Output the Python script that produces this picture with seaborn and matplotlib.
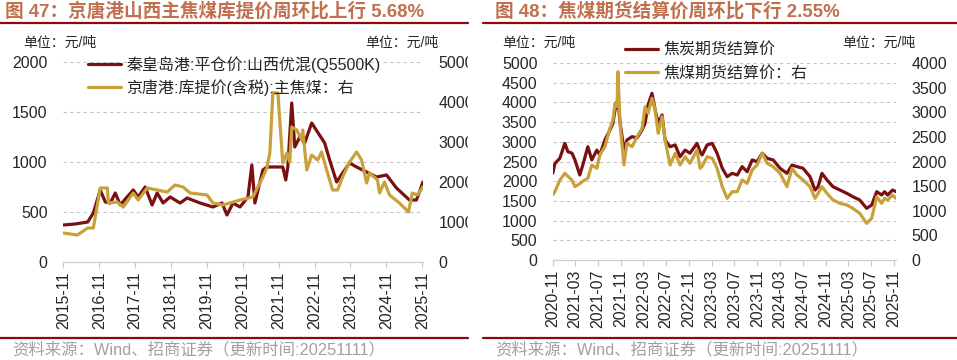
import matplotlib
matplotlib.use("Agg")
import matplotlib.pyplot as plt
import matplotlib.dates as mdates
from matplotlib.patches import Rectangle
from matplotlib.lines import Line2D
import seaborn as sns
import pandas as pd

# ---- left chart: 秦皇岛港 平仓价 (left axis) / 京唐港 主焦煤库提价 (right axis)
qhd_dates = ["2015-11-01", "2016-03-01", "2016-07-05", "2016-09-01", "2016-11-10", "2017-01-01",
             "2017-02-20", "2017-04-12", "2017-06-02", "2017-08-01", "2017-10-12", "2017-12-01",
             "2018-02-10", "2018-04-22", "2018-06-12", "2018-08-12", "2018-10-22", "2019-02-01",
             "2019-04-13", "2019-08-23", "2020-01-01", "2020-04-02", "2020-05-23", "2020-07-23",
             "2020-10-02", "2020-12-22", "2021-01-31", "2021-03-03", "2021-05-23", "2021-07-03",
             "2021-12-12", "2022-01-11", "2022-02-01", "2022-03-13", "2022-04-13", "2022-06-03",
             "2022-07-23", "2022-10-02", "2023-02-11", "2023-04-03", "2023-06-13", "2023-08-13",
             "2023-10-23", "2024-01-02", "2024-03-03", "2024-07-23", "2024-11-02", "2025-02-11",
             "2025-06-23", "2025-09-02", "2025-10-03", "2025-11-07"]
qhd_price = [370, 380, 400, 490, 720, 600,
             590, 690, 570, 640, 720, 650,
             750, 570, 690, 590, 650, 590,
             640, 590, 550, 590, 470, 590,
             550, 650, 970, 590, 920, 950,
             950, 820, 950, 1590, 1150, 1250,
             1190, 1390, 1190, 1020, 800, 890,
             990, 950, 920, 850, 870, 740,
             620, 620, 700, 800]

jtg_dates = ["2015-11-01", "2016-03-22", "2016-07-05", "2016-09-01", "2016-11-10", "2017-01-22",
             "2017-02-01", "2017-05-02", "2017-07-02", "2017-10-12", "2017-12-01", "2018-03-03",
             "2018-06-12", "2018-09-22", "2018-12-12", "2019-03-03", "2019-05-13", "2019-11-02",
             "2020-01-01", "2020-04-12", "2020-10-02", "2021-02-11", "2021-05-23", "2021-07-03",
             "2021-08-02", "2021-09-02", "2021-10-23", "2021-12-12", "2022-01-22", "2022-02-21",
             "2022-03-13", "2022-05-03", "2022-06-23", "2022-07-03", "2022-08-13", "2022-10-02",
             "2022-12-02", "2023-01-11", "2023-02-11", "2023-05-03", "2023-06-23", "2023-08-13",
             "2023-10-23", "2024-01-02", "2024-02-22", "2024-04-13", "2024-05-13", "2024-08-02",
             "2024-08-23", "2024-10-12", "2024-12-02", "2025-03-13", "2025-06-13", "2025-07-23",
             "2025-09-12", "2025-11-07"]
jtg_price = [725, 675, 850, 850, 1850, 1850,
             1475, 1500, 1375, 1725, 1550, 1850,
             1800, 1750, 1925, 1875, 1725, 1675,
             1475, 1425, 1550, 1625, 2125, 2350,
             2725, 4225, 4225, 2475, 2725, 2500,
             3375, 3300, 3050, 3300, 2300, 2675,
             2550, 2750, 2475, 1800, 1800, 2125,
             2500, 2750, 2550, 1975, 2225, 2050,
             1725, 2000, 1675, 1475, 1250, 1725,
             1675, 1875]

# ---- right chart: 焦炭期货结算价 (left axis) / 焦煤期货结算价 (right axis)
fut_dates = ["2020-11-01", "2020-11-13", "2020-12-09", "2021-01-05", "2021-01-21", "2021-02-12",
             "2021-02-28", "2021-03-26", "2021-04-11", "2021-05-08", "2021-05-29", "2021-06-25",
             "2021-07-11", "2021-08-07", "2021-09-03", "2021-09-19", "2021-09-30", "2021-10-11",
             "2021-10-16", "2021-10-27", "2021-11-17", "2021-12-03", "2021-12-30", "2022-01-26",
             "2022-02-22", "2022-03-10", "2022-03-26", "2022-04-16", "2022-05-03", "2022-05-19",
             "2022-06-09", "2022-06-25", "2022-07-22", "2022-08-18", "2022-09-13", "2022-10-10",
             "2022-11-05", "2022-12-13", "2022-12-29", "2023-01-09", "2023-02-05", "2023-03-04",
             "2023-03-30", "2023-04-27", "2023-05-23", "2023-06-19", "2023-07-16", "2023-08-11",
             "2023-09-07", "2023-10-04", "2023-10-30", "2023-11-26", "2023-12-23", "2024-01-24",
             "2024-03-01", "2024-04-07", "2024-05-04", "2024-05-30", "2024-07-02", "2024-08-08",
             "2024-09-04", "2024-09-20", "2024-10-11", "2024-11-07", "2024-12-09", "2025-01-15",
             "2025-02-21", "2025-03-25", "2025-05-01", "2025-06-07", "2025-07-04", "2025-07-31",
             "2025-08-26", "2025-09-11", "2025-09-27", "2025-10-24", "2025-11-11"]
coke_fut = [2200, 2450, 2580, 2960, 2750, 2710,
            2540, 2157, 2410, 2875, 2540, 2790,
            2665, 3045, 3300, 3470, 3807, 4018,
            4050, 3500, 2790, 3045, 3130, 3100,
            3300, 3470, 3935, 4230, 3807, 3470,
            3680, 3045, 2875, 2920, 2620, 2790,
            2710, 2960, 2750, 2665, 2920, 2960,
            2710, 2327, 2115, 2200, 2157, 2370,
            2240, 2540, 2495, 2710, 2580, 2540,
            2327, 2200, 2410, 2370, 2327, 2115,
            1776, 1860, 2200, 2030, 1860, 1776,
            1692, 1607, 1523, 1311, 1396, 1734,
            1650, 1734, 1650, 1776, 1734]
coal_fut = [1320, 1390, 1620, 1760, 1700, 1620,
            1490, 1550, 1600, 1659, 1929, 1862,
            2132, 2300, 2674, 2843, 3182, 3113,
            3823, 2776, 1929, 2370, 2300, 2504,
            2674, 3113, 2979, 3284, 3045, 2573,
            2910, 2436, 1929, 2166, 1929, 2098,
            1963, 2234, 1862, 1900, 2098, 2065,
            1862, 1488, 1252, 1387, 1387, 1624,
            1557, 1827, 1929, 2166, 1963, 1895,
            1760, 1488, 1862, 1726, 1624, 1488,
            1252, 1350, 1488, 1353, 1218, 1151,
            1117, 1049, 948, 745, 846, 1285,
            1151, 1252, 1218, 1320, 1252]

left_ticks = [f"{y}-11-01" for y in range(2015, 2026)]
right_ticks = pd.date_range("2020-11-01", "2025-11-01", freq="4MS")

MAROON = "#7A1010"
GOLD = "#C9A13A"
TITLE_C = "#C0704E"
RULE_C = "#8B0A0A"

sns.set_style("white")
plt.rcParams["font.family"] = ["Liberation Sans", "Noto Sans CJK SC"]
plt.rcParams["axes.unicode_minus"] = False

W, H = 957, 360
fig = plt.figure(figsize=(W / 100, H / 100), dpi=100)


def fx(px):
    return px / W


def fy(py):
    return 1 - py / H


def style_axes(ax, ax2, xticks, xlim):
    for a in (ax, ax2):
        for s in ["top", "left", "right"]:
            a.spines[s].set_visible(False)
        a.spines["bottom"].set_color("#D0D0D0")
        a.set_xlabel("")
        a.set_ylabel("")
        a.tick_params(axis="y", length=0, pad=11, labelsize=11.5)
    ax.grid(axis="y", color="#C4C4C4", linestyle=(0, (3, 3)), linewidth=0.8)
    ax.set_axisbelow(True)
    ax.set_xticks(pd.to_datetime(xticks))
    ax.xaxis.set_major_formatter(mdates.DateFormatter("%Y-%m"))
    ax.tick_params(axis="x", length=4, color="#C8C8C8", width=0.8, pad=3,
                   labelsize=11.5, rotation=90, bottom=True)
    ax.set_xlim(pd.Timestamp(xlim[0]), pd.Timestamp(xlim[1]))


def frame(x0, x1, tx, sx, title):
    fig.text(fx(tx), fy(11), title, fontsize=13.4, fontweight="bold",
             color=TITLE_C, va="center", ha="left")
    fig.add_artist(Line2D([fx(x0), fx(x1)], [fy(23), fy(23)], color=RULE_C, lw=1.6))
    fig.add_artist(Line2D([fx(x0), fx(x1)], [fy(338), fy(338)], color=RULE_C, lw=1.6))
    fig.text(fx(sx), fy(350), "资料来源：Wind、招商证券（更新时间:20251111）",
             fontsize=11.8, color="#A0A0A0", va="center", ha="left")


# ---------------- left panel ----------------
axL = fig.add_axes([fx(63), fy(262), fx(423) - fx(63), (262 - 62) / H])
axL2 = axL.twinx()
df_qhd = pd.DataFrame({"date": pd.to_datetime(qhd_dates), "price": qhd_price})
df_jtg = pd.DataFrame({"date": pd.to_datetime(jtg_dates), "price": jtg_price})
sns.lineplot(data=df_qhd, x="date", y="price", ax=axL, color=MAROON, lw=2.3,
             label="秦皇岛港:平仓价:山西优混(Q5500K)")
sns.lineplot(data=df_jtg, x="date", y="price", ax=axL2, color=GOLD, lw=2.3,
             label="京唐港:库提价(含税):主焦煤：右")
axL.set_ylim(0, 2000)
axL.set_yticks([0, 500, 1000, 1500, 2000])
axL2.set_ylim(0, 5000)
axL2.set_yticks([0, 1000, 2000, 3000, 4000, 5000])
style_axes(axL, axL2, left_ticks, ("2015-10-28", "2025-11-08"))
h1, l1 = axL.get_legend_handles_labels()
h2, l2 = axL2.get_legend_handles_labels()
axL.get_legend().remove()
axL2.legend(h1 + h2, l1 + l2, loc="upper left", bbox_to_anchor=(0.069, 1.03),
            frameon=False, fontsize=11.5, handlelength=2.1, handletextpad=0.3,
            borderpad=0, borderaxespad=0, labelspacing=0.4)

# ---------------- right panel ----------------
axR = fig.add_axes([fx(552.7), fy(260), fx(896) - fx(552.7), (260 - 63) / H])
axR2 = axR.twinx()
df_fut = pd.DataFrame({"date": pd.to_datetime(fut_dates), "coke": coke_fut, "coal": coal_fut})
sns.lineplot(data=df_fut, x="date", y="coke", ax=axR, color=MAROON, lw=2.3,
             label="焦炭期货结算价")
sns.lineplot(data=df_fut, x="date", y="coal", ax=axR2, color=GOLD, lw=2.3,
             label="焦煤期货结算价：右")
axR.set_ylim(0, 5000)
axR.set_yticks(range(0, 5001, 500))
axR2.set_ylim(0, 4000)
axR2.set_yticks(range(0, 4001, 500))
style_axes(axR, axR2, right_ticks, ("2020-11-01", "2025-11-11"))
h1, l1 = axR.get_legend_handles_labels()
h2, l2 = axR2.get_legend_handles_labels()
axR.get_legend().remove()
axR2.legend(h1 + h2, l1 + l2, loc="upper left", bbox_to_anchor=(0.21, 1.105),
            frameon=False, fontsize=11.5, handlelength=2.1, handletextpad=0.3,
            borderpad=0, borderaxespad=0, labelspacing=0.5)

# ---------------- titles, units, sources ----------------
frame(0, 468, 5, 12, "图 47：京唐港山西主焦煤库提价周环比上行 5.68%")
frame(483, 957, 495, 495, "图 48：焦煤期货结算价周环比下行 2.55%")
for x in (23, 365, 502, 842):
    fig.text(fx(x), fy(43), "单位：元/吨", fontsize=10, va="center", ha="left")

# the left panel is cut off just past its right tick labels
fig.add_artist(Rectangle((fx(468), fy(330)), fx(15), fy(28) - fy(330),
                         transform=fig.transFigure, color="white", zorder=10))

fig.savefig("out.png", dpi=100)
